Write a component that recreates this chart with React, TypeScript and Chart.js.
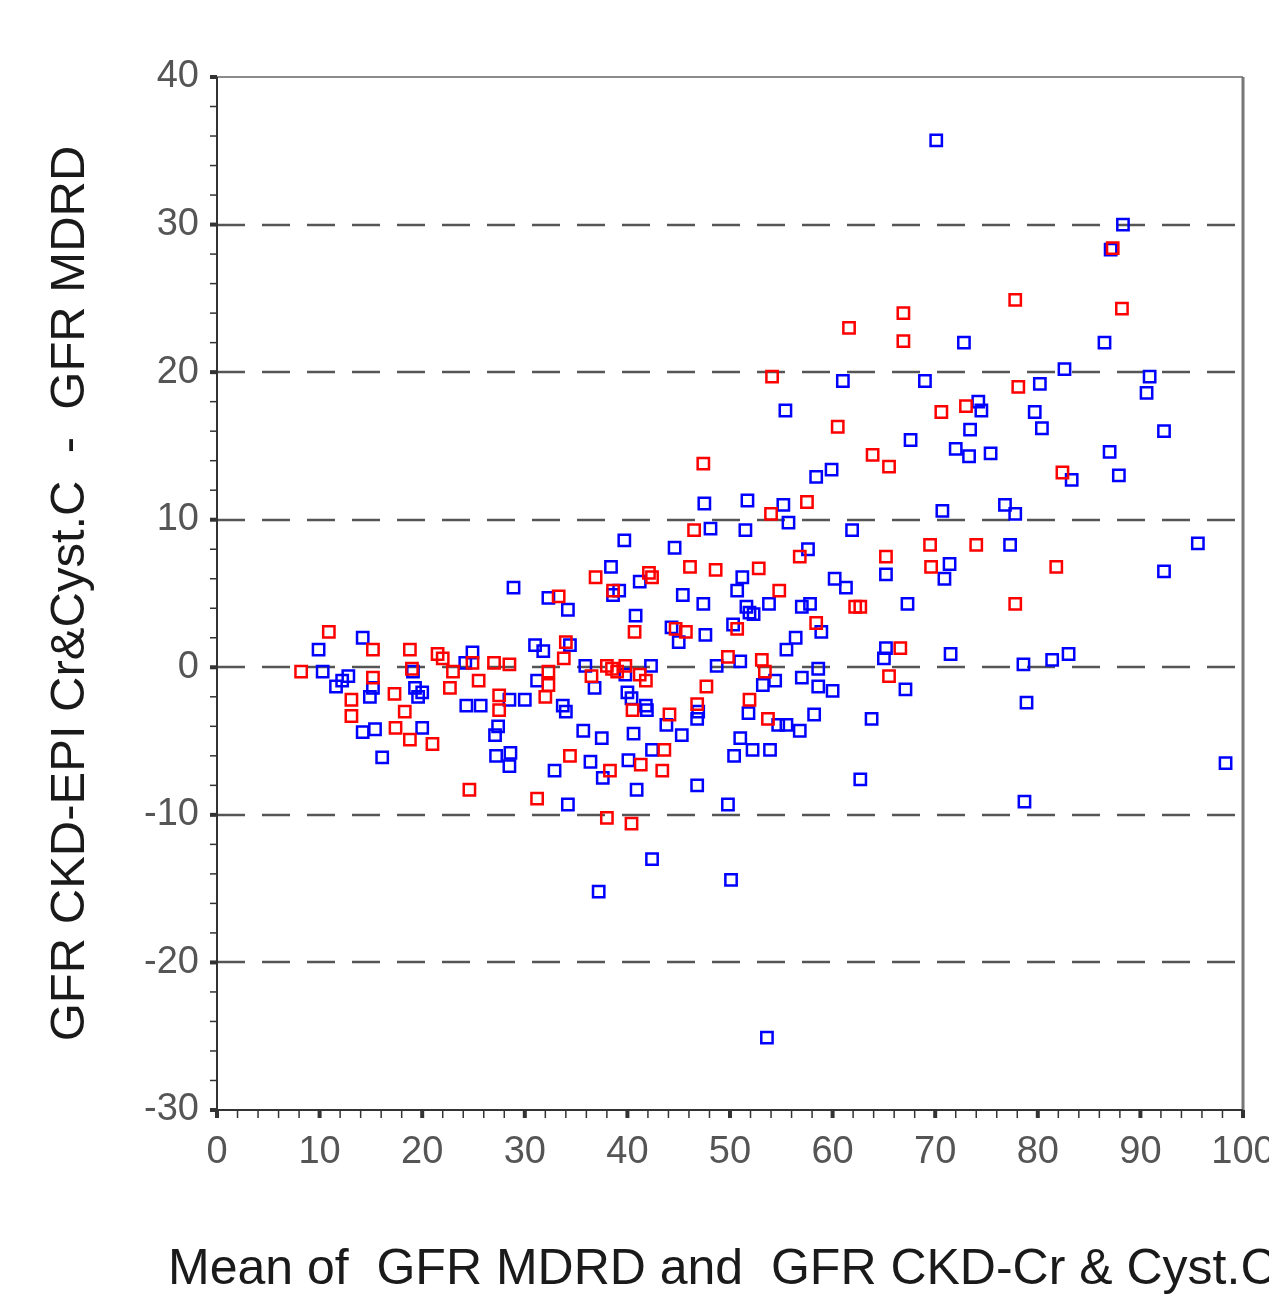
import React, { useEffect, useRef } from 'react';
import { Chart, registerables } from 'chart.js';

Chart.register(...registerables);

// Red series: mean (x) and difference (y)
const redX = [8.2, 10.9, 13.1, 13.1, 15.2, 15.2, 17.3, 17.4, 18.3, 18.8, 18.8, 19.0, 21.0, 21.5, 22.0, 22.7, 23.0, 24.6, 24.9, 25.5, 27.0, 27.5, 27.5, 28.5, 31.2, 32.0, 32.3, 32.3, 33.3, 33.8, 34.0, 34.4, 36.5, 36.9, 38.0, 38.0, 38.3, 38.5, 38.6, 39.0, 39.8, 40.4, 40.5, 40.7, 41.2, 41.3, 41.8, 42.1, 42.4, 43.4, 43.6, 44.1, 44.7, 45.7, 46.1, 46.5, 46.8, 47.4, 47.7, 48.6, 49.8, 50.7, 51.9, 52.8, 53.1, 53.4, 53.7, 54.1, 54.0, 54.8, 56.8, 57.5, 58.4, 60.5, 61.6, 62.2, 62.7, 63.9, 65.2, 65.5, 65.5, 66.6, 66.9, 66.9, 69.5, 69.6, 70.6, 73.0, 74.0, 77.8, 77.8, 78.1, 81.8, 82.4, 87.3, 88.2];
const redY = [-0.3, 2.4, -2.2, -3.3, 1.2, -0.7, -1.8, -4.1, -3.0, 1.2, -4.9, -0.1, -5.2, 0.9, 0.6, -1.4, -0.3, -8.3, 0.3, -0.9, 0.3, -1.9, -2.9, 0.2, -8.9, -2.0, -1.2, -0.3, 4.8, 0.6, 1.7, -6.0, -0.6, 6.1, -10.2, 0.1, -7.0, -0.1, 5.2, -0.3, 0.1, -10.6, -2.9, 2.4, -0.5, -6.6, -0.9, 6.4, 6.1, -7.0, -5.6, -3.2, 2.6, 2.4, 6.8, 9.3, -2.5, 13.8, -1.3, 6.6, 0.7, 2.6, -2.2, 6.7, 0.5, -0.3, -3.5, 19.7, 10.4, 5.2, 7.5, 11.2, 3.0, 16.3, 23.0, 4.1, 4.1, 14.4, 7.5, 13.6, -0.6, 1.3, 24.0, 22.1, 8.3, 6.8, 17.3, 17.7, 8.3, 24.9, 4.3, 19.0, 6.8, 13.2, 28.4, 24.3];

// Blue series: mean (x) and difference (y)
const blueX = [9.9, 10.3, 11.6, 12.2, 12.8, 14.2, 14.2, 14.9, 15.2, 15.4, 16.1, 19.1, 19.3, 19.6, 20.0, 20.0, 24.2, 24.3, 24.9, 25.7, 27.1, 27.4, 27.2, 28.5, 28.6, 28.5, 28.9, 30.0, 31.0, 31.2, 31.8, 32.3, 32.9, 33.7, 34.0, 34.2, 34.2, 34.4, 35.7, 35.9, 36.4, 36.8, 37.2, 37.5, 37.6, 38.4, 38.6, 39.2, 39.7, 39.8, 40.0, 40.1, 40.4, 40.6, 40.8, 40.9, 41.2, 41.8, 41.9, 42.3, 42.4, 42.4, 43.8, 44.3, 44.6, 45.0, 45.3, 45.4, 46.8, 46.8, 46.9, 47.4, 47.5, 47.6, 48.1, 48.7, 49.8, 50.1, 50.3, 50.4, 50.7, 51.0, 51.0, 51.2, 51.5, 51.6, 51.7, 51.8, 51.9, 52.2, 52.3, 53.2, 53.6, 53.8, 53.9, 54.4, 54.7, 55.2, 55.4, 55.5, 55.5, 55.7, 56.4, 56.8, 57.0, 57.0, 57.6, 57.8, 58.2, 58.4, 58.6, 58.6, 58.9, 59.9, 60.0, 60.2, 61.0, 61.3, 61.9, 62.7, 63.8, 65.0, 65.2, 65.2, 67.3, 67.1, 67.6, 69.0, 70.1, 70.7, 70.9, 71.4, 71.5, 72.0, 72.8, 73.3, 73.4, 74.2, 74.5, 75.4, 76.8, 77.3, 77.8, 78.6, 78.7, 78.9, 79.7, 80.2, 80.4, 81.4, 82.6, 83.0, 83.3, 86.5, 87.0, 87.1, 87.9, 88.3, 90.6, 90.9, 92.3, 92.3, 95.6, 98.3];
const blueY = [1.2, -0.3, -1.3, -0.9, -0.6, 2.0, -4.4, -2.0, -1.4, -4.2, -6.1, -0.3, -1.4, -2.0, -1.7, -4.1, 0.3, -2.6, 1.0, -2.6, -4.6, -4.0, -6.0, -6.7, -5.8, -2.2, 5.4, -2.2, 1.5, -0.9, 1.1, 4.7, -7.0, -2.6, -3.0, 3.9, -9.3, 1.5, -4.3, 0.1, -6.4, -1.4, -15.2, -4.8, -7.5, 6.8, 4.9, 5.2, 8.6, -0.5, -1.7, -6.3, -2.1, -4.5, 3.5, -8.3, 5.8, -2.6, -2.9, 0.1, -13.0, -5.6, -3.9, 2.7, 8.1, 1.7, -4.6, 4.9, -8.0, -3.5, -3.0, 4.3, 11.1, 2.2, 9.4, 0.1, -9.3, -14.4, 2.9, -6.0, 5.2, 0.4, -4.8, 6.1, 9.3, 4.1, 11.3, -3.1, 3.7, -5.6, 3.6, -1.2, -25.1, 4.3, -5.6, -0.9, -3.9, 11.0, 17.4, -3.9, 1.2, 9.8, 2.0, -4.3, 4.1, -0.7, 8.0, 4.3, -3.2, 12.9, -0.1, -1.3, 2.4, 13.4, -1.6, 6.0, 19.4, 5.4, 9.3, -7.6, -3.5, 0.6, 1.3, 6.3, 4.3, -1.5, 15.4, 19.4, 35.7, 10.6, 6.0, 7.0, 0.9, 14.8, 22.0, 14.3, 16.1, 18.0, 17.4, 14.5, 11.0, 8.3, 10.4, 0.2, -9.1, -2.4, 17.3, 19.2, 16.2, 0.5, 20.2, 0.9, 12.7, 22.0, 14.6, 28.3, 13.0, 30.0, 18.6, 19.7, 16.0, 6.5, 8.4, -6.5];

const xTickValues = [0, 10, 20, 30, 40, 50, 60, 70, 80, 90, 100];
const yTickValues = [-30, -20, -10, 0, 10, 20, 30, 40];
const dashedLevels = [-20, -10, 0, 10, 20, 30];

const xTitle = 'Mean of  GFR MDRD and  GFR CKD-Cr & Cyst.C';
const yTitle = 'GFR CKD-EPI Cr&Cyst.C  -  GFR MDRD';
const fontFamily = '"Liberation Sans", Arial, sans-serif';

const framePlugin = {
  id: 'frameAndTicks',
  beforeDatasetsDraw(chart: any) {
    const { ctx, chartArea } = chart;
    const xs = chart.scales.x;
    const ys = chart.scales.y;
    const { left, right, top, bottom } = chartArea;
    ctx.save();
    // dashed reference lines
    ctx.strokeStyle = '#555';
    ctx.lineWidth = 2.5;
    ctx.setLineDash([28, 17]);
    for (const v of dashedLevels) {
      const y = Math.round(ys.getPixelForValue(v));
      ctx.beginPath();
      ctx.moveTo(left, y);
      ctx.lineTo(right, y);
      ctx.stroke();
    }
    ctx.setLineDash([]);
    // frame
    ctx.strokeStyle = '#666';
    ctx.lineWidth = 1.5;
    ctx.beginPath();
    ctx.moveTo(left, top);
    ctx.lineTo(right, top);
    ctx.stroke();
    ctx.strokeStyle = '#777';
    ctx.lineWidth = 3;
    ctx.beginPath();
    ctx.moveTo(right, top);
    ctx.lineTo(right, bottom);
    ctx.stroke();
    ctx.strokeStyle = '#333';
    ctx.lineWidth = 2;
    ctx.beginPath();
    ctx.moveTo(left, top);
    ctx.lineTo(left, bottom);
    ctx.lineTo(right, bottom);
    ctx.stroke();
    // y ticks
    for (let v = -30; v <= 40; v += 2) {
      const y = ys.getPixelForValue(v);
      const major = v % 10 === 0;
      ctx.lineWidth = major ? 4 : 1.5;
      ctx.beginPath();
      ctx.moveTo(left - 7, y);
      ctx.lineTo(left, y);
      ctx.stroke();
    }
    // x ticks
    for (let v = 0; v <= 100; v += 2) {
      const x = xs.getPixelForValue(v);
      const major = v % 10 === 0;
      ctx.lineWidth = major ? 4 : 1.5;
      ctx.beginPath();
      ctx.moveTo(x, bottom);
      ctx.lineTo(x, bottom + 8);
      ctx.stroke();
    }
    ctx.restore();
  },
  afterDraw(chart: any) {
    // x-axis title drawn without Chart.js's maxWidth compression (it overflows the canvas in the original)
    const { ctx } = chart;
    ctx.save();
    ctx.font = `50px ${fontFamily}`;
    ctx.fillStyle = '#1a1a1a';
    ctx.textAlign = 'left';
    ctx.textBaseline = 'alphabetic';
    ctx.fillText(xTitle, 168, 1284);
    ctx.restore();
  },
};

export default function App() {
  const ref = useRef<HTMLCanvasElement | null>(null);

  useEffect(() => {
    if (!ref.current) return;
    const red = redX.map((x, i) => ({ x, y: redY[i] }));
    const blue = blueX.map((x, i) => ({ x, y: blueY[i] }));
    const tickFont = { family: fontFamily, size: 38 };
    const titleFont = { family: fontFamily, size: 49 };
    const chart = new Chart(ref.current, {
      type: 'scatter',
      data: {
        datasets: [
          {
            label: 'red',
            data: red,
            pointStyle: 'rect',
            pointRadius: 8,
            pointBorderWidth: 2.5,
            borderColor: '#ff0000',
            backgroundColor: 'rgba(0,0,0,0)',
          },
          {
            label: 'blue',
            data: blue,
            pointStyle: 'rect',
            pointRadius: 8,
            pointBorderWidth: 2.5,
            borderColor: '#0000ff',
            backgroundColor: 'rgba(0,0,0,0)',
          },
        ],
      },
      options: {
        animation: false,
        responsive: false,
        devicePixelRatio: 1,
        layout: { padding: { top: 77, right: 26, left: 0, bottom: 0 } },
        plugins: { legend: { display: false }, tooltip: { enabled: false } },
        scales: {
          x: {
            type: 'linear',
            min: 0,
            max: 100,
            afterBuildTicks: (scale: any) => {
              scale.ticks = xTickValues.map((v) => ({ value: v }));
            },
            afterFit: (scale: any) => {
              scale.height = 185;
              scale.paddingLeft = 0;
              scale.paddingRight = 0;
            },
            grid: { display: false, drawTicks: false },
            border: { display: false },
            ticks: { font: tickFont, color: '#555', padding: 20, maxRotation: 0, autoSkip: false },
            title: { display: false, text: xTitle },
          },
          y: {
            type: 'linear',
            min: -30,
            max: 40,
            afterBuildTicks: (scale: any) => {
              scale.ticks = yTickValues.map((v) => ({ value: v }));
            },
            afterFit: (scale: any) => {
              scale.width = 217;
              scale.paddingTop = 0;
              scale.paddingBottom = 0;
            },
            grid: { display: false, drawTicks: false },
            border: { display: false },
            ticks: { font: tickFont, color: '#555', padding: 18, autoSkip: false },
            title: { display: true, text: yTitle, font: titleFont, color: '#1a1a1a', padding: { top: 41, bottom: 0 } },
          },
        },
      },
      plugins: [framePlugin],
    });
    return () => chart.destroy();
  }, []);

  return (
    <div style={{ position: 'fixed', left: 0, top: 0, width: 1269, height: 1295, background: '#fff' }}>
      <canvas ref={ref} width={1269} height={1295} style={{ width: 1269, height: 1295, display: 'block' }} />
    </div>
  );
}
